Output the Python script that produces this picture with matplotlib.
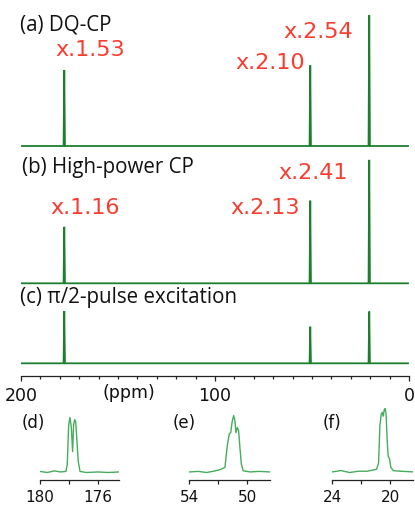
import matplotlib
matplotlib.use("Agg")
import matplotlib.pyplot as plt

# ---------------- data ----------------
peak_ppm = [177.7, 50.9, 20.5]            # C=O, C-alpha, C-beta
heights_a = [1.45, 1.54, 2.50]            # DQ-CP
heights_b = [1.08, 1.58, 2.36]            # High-power CP
heights_c = [1.00, 0.70, 0.99]            # pi/2-pulse excitation
ratio_a = ["x.1.53", "x.2.10", "x.2.54"]
ratio_b = ["x.1.16", "x.2.13", "x.2.41"]
main_ticks = [200, 100, 0]
main_ticklabels = ["200", "100", "0"]

# insets (ppm, normalised intensity)
d_ppm = [180.0, 179.5, 179.0, 178.6, 178.21, 178.12, 178.02, 177.93, 177.84, 177.75,
         177.68, 177.61, 177.54, 177.45, 177.36, 177.24, 176.8, 176.0, 175.3, 174.55]
d_int = [0.02, 0.0, 0.03, 0.01, 0.02, 0.15, 0.87, 1.0, 0.82, 0.38,
         0.87, 0.96, 0.93, 0.57, 0.20, 0.02, 0.0, 0.01, 0.0, 0.01]
e_ppm = [54.0, 53.4, 52.8, 52.2, 51.88, 51.54, 51.38, 51.24, 51.14, 51.05, 50.94,
         50.85, 50.78, 50.69, 50.60, 50.50, 50.41, 50.28, 49.8, 49.2, 48.43]
e_int = [0.01, 0.02, 0.0, 0.03, 0.05, 0.09, 0.47, 0.68, 0.70, 0.88, 1.0,
         0.91, 0.70, 0.79, 0.74, 0.42, 0.15, 0.03, 0.01, 0.02, 0.01]
f_ppm = [24.0, 23.4, 22.8, 22.2, 21.6, 20.94, 20.80, 20.71, 20.62, 20.55, 20.48,
         20.41, 20.34, 20.28, 20.21, 20.14, 20.04, 19.95, 19.79, 19.3, 18.4]
f_int = [0.01, 0.03, 0.0, 0.02, 0.02, 0.05, 0.15, 0.73, 0.91, 0.94, 0.88,
         0.98, 1.0, 0.91, 0.52, 0.26, 0.21, 0.08, 0.03, 0.02, 0.01]
inset_max = [0.86, 0.89, 1.0]
inset_names = ["(d)", "(e)", "(f)"]
inset_ticks = [[180, 178, 176], [54, 52, 50], [24, 22, 20]]
inset_ticklabels = [["180", "", "176"], ["54", "", "50"], ["24", "", "20"]]
inset_xlim = [(180, 174.55), (54, 48.43), (24, 18.4)]

# ---------------- style ----------------
W, H = 415, 505
DARK_GREEN = "#1b7f2e"
LIGHT_GREEN = "#45ad5c"
RED = "#f93c30"
AXC = "#222222"

fig = plt.figure(figsize=(W / 100, H / 100), dpi=100)


def fx(px):
    return px / W


def fy(py):
    return 1 - py / H


# main axes
ax = fig.add_axes([fx(21), fy(376), fx(409) - fx(21), fy(0) - fy(376)])
ax.set_xlim(200, 0)
unit = 52.3
ax.set_ylim(0, 376 / unit)
baselines = [(376 - 146) / unit, (376 - 283.3) / unit, (376 - 363.3) / unit]
hw = 0.35


def spectrum(heights, base):
    xs, ys = [200.0], [base]
    for p, h in zip(peak_ppm, heights):
        xs += [p + hw, p, p - hw]
        ys += [base, base + h, base]
    xs.append(0.5)
    ys.append(base)
    return xs, ys


for hts, b in zip([heights_a, heights_b, heights_c], baselines):
    xs, ys = spectrum(hts, b)
    ax.plot(xs, ys, color=DARK_GREEN, lw=1.3, solid_joinstyle="miter")

for s in ["top", "left", "right"]:
    ax.spines[s].set_visible(False)
ax.spines["bottom"].set_color(AXC)
ax.spines["bottom"].set_linewidth(0.9)
ax.set_yticks([])
ax.set_xticks(main_ticks)
ax.set_xticklabels(main_ticklabels)
ax.set_xticks(list(range(0, 201, 10)), minor=True)
ax.tick_params(axis="x", which="major", length=3.8, width=0.9, color=AXC,
               pad=4.2, labelsize=12.5, labelcolor="#111111")
ax.tick_params(axis="x", which="minor", length=2.3, width=0.9, color=AXC)
ax.patch.set_alpha(0)

fig.text(fx(129), fy(393), "(ppm)", ha="center", va="center", fontsize=12.5,
         color="#111111")

# panel labels
lab_font = dict(family="Open Sans", fontsize=14.8, color="#111111", va="center", ha="left")
fig.text(fx(20), fy(25), "(a) DQ-CP", **lab_font)
fig.text(fx(22), fy(167), "(b) High-power CP", **lab_font)
fig.text(fx(20), fy(297), "(c) \u03c0/2-pulse excitation", **lab_font)

# ratio labels
red_font = dict(fontsize=16, color=RED, va="center", ha="left")
for txt, (x, y) in zip(ratio_a, [(55, 50), (235, 63), (283, 32)]):
    fig.text(fx(x), fy(y), txt, **red_font)
for txt, (x, y) in zip(ratio_b, [(50, 208), (230, 208), (278, 173)]):
    fig.text(fx(x), fy(y), txt, **red_font)

# insets
inset_px = [(40, 119), (189.3, 270), (332.3, 413.3)]
label_px = [22, 173, 323]
series = [(d_ppm, d_int), (e_ppm, e_int), (f_ppm, f_int)]
for i in range(3):
    l, r = inset_px[i]
    iax = fig.add_axes([fx(l), fy(480), fx(r) - fx(l), fy(405) - fy(480)])
    xs, ys = series[i]
    iax.plot(xs, [v * inset_max[i] for v in ys], color=LIGHT_GREEN, lw=1.0)
    iax.set_xlim(*inset_xlim[i])
    iax.set_ylim(-0.117, 1.055)
    for s in ["top", "left", "right"]:
        iax.spines[s].set_visible(False)
    iax.spines["bottom"].set_color(AXC)
    iax.spines["bottom"].set_linewidth(0.9)
    iax.set_yticks([])
    iax.set_xticks(inset_ticks[i])
    iax.set_xticklabels(inset_ticklabels[i])
    iax.tick_params(axis="x", length=3, width=0.9, color=AXC, pad=4.0,
                    labelsize=11, labelcolor="#111111")
    iax.patch.set_alpha(0)
    fig.text(fx(label_px[i]), fy(423), inset_names[i], ha="left", va="center",
             fontsize=12, color="#111111")

fig.savefig("out.png", dpi=100)
